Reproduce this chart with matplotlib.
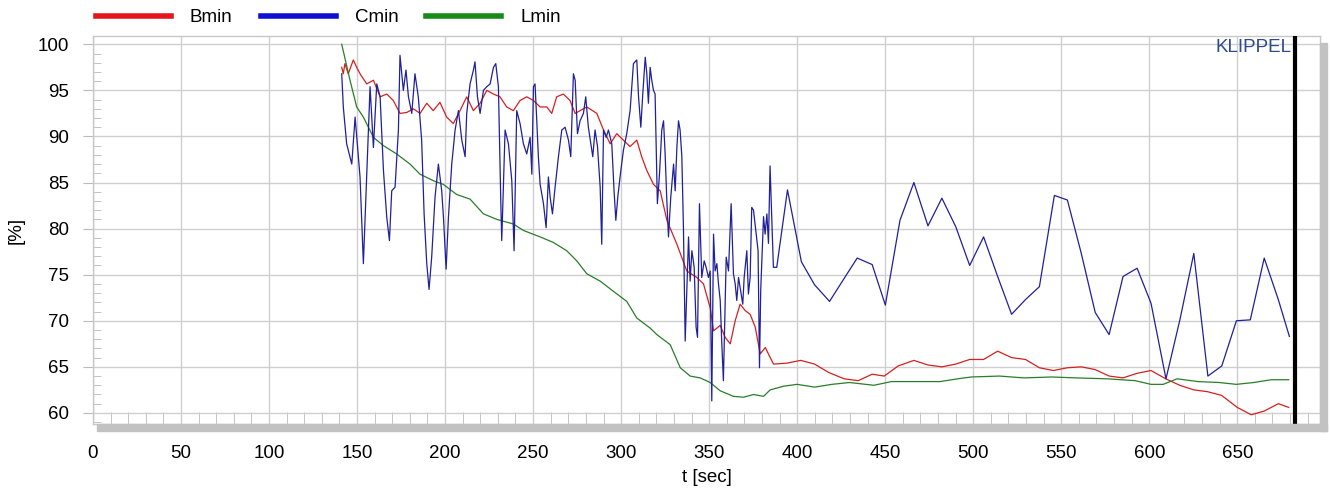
import numpy as np
import matplotlib.pyplot as plt
from matplotlib.patches import Rectangle
from matplotlib.ticker import MultipleLocator

plt.rcParams['font.family'] = ['Liberation Sans', 'DejaVu Sans']

# Cmin: dense part (about one reading per second) then sparse part
t_c = [141.3, 142.2, 144.1, 147.0, 148.9, 151.7, 153.6, 155.5, 157.4, 159.3,
       161.2, 163.1, 165.0, 166.9, 168.4, 169.7, 171.6, 173.5, 174.4, 176.3,
       177.8, 179.2, 181.1, 182.9, 184.8, 186.7, 188.1, 189.6, 190.9, 192.4,
       194.3, 196.2, 198.1, 199.1, 200.6, 201.9, 203.8, 205.7, 207.6, 209.5,
       211.4, 212.3, 214.2, 216.1, 217.0, 218.4, 219.9, 221.8, 223.7, 225.6,
       227.5, 228.8, 230.3, 231.6, 232.2, 234.1, 236.0, 237.9, 239.2, 240.7,
       242.6, 244.5, 246.4, 248.3, 249.3, 250.2, 251.1, 252.1, 253.0, 254.0,
       255.9, 257.4, 258.7, 259.7, 261.0, 262.5, 264.4, 266.3, 268.2, 270.1,
       271.4, 272.9, 273.9, 275.2, 276.7, 278.6, 279.9, 281.4, 282.8, 283.9,
       285.2, 286.6, 288.1, 289.0, 290.0, 291.5, 292.8, 294.7, 296.0, 297.0,
       298.1, 299.4, 301.3, 303.2, 305.1, 307.0, 308.9, 309.9, 311.2, 312.3,
       313.7, 314.6, 315.5, 316.5, 317.4, 318.4, 319.3, 319.9, 320.6, 321.8,
       323.1, 324.1, 325.0, 325.9, 326.9, 328.2, 329.8, 330.7, 331.7, 332.6,
       333.5, 334.5, 335.4, 336.4, 338.3, 339.2, 340.2, 341.5, 342.6, 343.4,
       344.5, 345.8, 347.2, 348.3, 349.6, 350.6, 351.5, 352.5, 353.4, 354.4,
       355.3, 356.3, 357.2, 358.1, 359.7, 361.0, 362.5, 363.8, 364.8, 365.7,
       366.7, 367.6, 369.1, 369.9, 371.4, 372.3, 373.3, 374.2, 375.2, 376.7,
       377.8, 378.6, 379.3, 380.9, 381.8, 382.8, 383.7, 384.6, 385.6, 386.5,
       388.4, 394.5, 402.4, 409.9, 418.4, 426.7, 434.1, 442.6, 450.1, 458.4,
       466.3, 474.3, 482.2, 490.1, 498.0, 505.9, 513.9, 521.8, 529.7, 537.6,
       546.1, 553.5, 561.4, 569.3, 577.2, 585.1, 593.1, 601.0, 609.5, 617.4,
       625.3, 633.3, 641.2, 649.5, 657.4, 665.3, 673.3, 679.6]
cmin = [96.8, 93.2, 89.2, 87.0, 92.1, 85.6, 76.2, 85.9, 95.4, 88.8,
        95.7, 94.3, 86.3, 81.2, 78.7, 84.1, 84.5, 90.7, 98.8, 95.0,
        97.2, 94.3, 92.5, 96.8, 94.3, 89.6, 81.6, 76.2, 73.4, 76.9,
        83.4, 87.0, 84.1, 81.2, 75.6, 81.2, 87.0, 90.7, 92.8, 89.6,
        87.8, 92.5, 95.7, 97.2, 98.1, 94.3, 92.5, 95.0, 95.4, 95.7,
        97.5, 97.9, 95.4, 83.4, 78.7, 90.7, 89.2, 85.2, 77.6, 92.8,
        91.4, 89.2, 88.1, 89.9, 85.9, 95.4, 95.7, 91.7, 87.8, 84.8,
        82.7, 80.1, 85.6, 83.4, 81.6, 84.5, 87.8, 90.7, 91.0, 89.6,
        87.8, 96.8, 96.1, 90.3, 91.7, 92.5, 94.3, 91.0, 89.2, 87.8,
        90.7, 88.9, 84.5, 78.3, 90.7, 89.9, 90.7, 89.2, 84.1, 80.9,
        83.4, 85.6, 88.5, 90.3, 92.8, 97.9, 98.3, 94.3, 91.0, 94.6,
        98.6, 96.8, 93.6, 97.5, 96.1, 95.0, 94.6, 88.9, 82.7, 85.9,
        90.7, 91.7, 88.1, 83.4, 79.1, 83.4, 87.0, 84.1, 88.9, 91.7,
        90.7, 87.8, 80.1, 67.8, 79.1, 74.3, 77.6, 75.8, 69.3, 68.2,
        82.7, 74.7, 76.5, 75.8, 74.7, 75.4, 61.3, 79.4, 75.4, 76.2,
        74.0, 72.2, 67.5, 63.5, 76.9, 75.4, 82.7, 75.1, 74.0, 72.2,
        74.7, 73.6, 71.8, 74.7, 77.6, 72.9, 74.7, 82.3, 82.0, 79.4,
        77.6, 64.9, 73.3, 81.3, 79.4, 81.6, 78.4, 86.8, 80.9, 75.8,
        75.8, 84.2, 76.4, 73.9, 72.1, 74.6, 76.8, 76.1, 71.7, 80.9,
        85.0, 80.3, 83.3, 80.2, 76.0, 79.1, 74.8, 70.7, 72.3, 73.7,
        83.6, 83.1, 77.3, 70.9, 68.5, 74.8, 75.7, 71.9, 63.7, 70.1,
        77.3, 64.0, 65.1, 70.0, 70.1, 76.8, 72.3, 68.3]

t_b = [141.3, 142.2, 143.1, 145.0, 147.9, 149.8, 151.7, 155.5, 159.3, 163.1,
       166.9, 170.6, 174.4, 178.2, 182.0, 185.8, 189.6, 193.3, 197.1, 200.9,
       204.7, 208.5, 212.3, 216.1, 219.9, 223.7, 227.5, 231.2, 235.0, 238.8,
       242.6, 246.4, 250.2, 254.0, 257.8, 260.6, 263.4, 267.2, 271.0, 273.9,
       276.7, 280.5, 286.2, 290.0, 293.8, 297.5, 301.3, 305.1, 308.9, 311.7,
       314.6, 318.4, 322.2, 326.0, 331.7, 337.3, 343.0, 346.8, 350.6, 352.5,
       356.3, 359.1, 362.0, 364.8, 367.6, 370.5, 373.3, 376.2, 379.0, 381.9,
       384.7, 386.6, 394.2, 402.0, 409.9, 417.8, 426.7, 434.7, 442.6, 449.5,
       457.4, 466.3, 474.3, 482.2, 490.1, 498.0, 505.9, 513.9, 521.8, 529.7,
       537.6, 545.5, 553.5, 561.4, 569.3, 577.2, 585.1, 593.1, 601.0, 609.4,
       617.3, 625.3, 633.2, 641.1, 650.0, 657.9, 665.3, 673.3, 679.2]
bmin = [97.5, 96.8, 97.9, 96.8, 98.3, 97.5, 96.8, 95.7, 96.1, 94.3,
        94.6, 93.9, 92.5, 92.6, 93.0, 92.5, 93.6, 92.8, 93.7, 92.1,
        91.4, 92.8, 94.3, 92.8, 93.6, 95.0, 94.6, 94.3, 93.2, 92.8,
        93.9, 94.3, 93.9, 93.2, 93.2, 92.5, 94.3, 94.6, 93.9, 92.5,
        92.8, 93.2, 92.5, 90.7, 89.2, 90.3, 89.6, 88.9, 89.6, 87.8,
        86.3, 84.8, 84.1, 80.9, 78.3, 75.4, 74.7, 74.0, 71.4, 68.9,
        69.5, 68.2, 67.5, 70.0, 71.8, 71.1, 70.7, 69.3, 66.4, 67.1,
        66.0, 65.3, 65.4, 65.7, 65.3, 64.4, 63.7, 63.5, 64.2, 64.0,
        65.1, 65.7, 65.2, 65.0, 65.3, 65.8, 65.8, 66.7, 66.0, 65.8,
        64.9, 64.6, 64.9, 65.0, 64.7, 64.0, 63.8, 64.3, 64.6, 63.7,
        63.0, 62.5, 62.3, 61.9, 60.6, 59.8, 60.2, 61.0, 60.6]

t_l = [141.3, 146.0, 149.8, 153.6, 159.3, 165.0, 172.5, 180.1, 185.8, 193.3,
       199.0, 206.6, 214.2, 221.8, 229.4, 238.8, 244.5, 254.0, 261.5, 269.1,
       274.8, 280.5, 288.1, 295.6, 303.2, 308.9, 316.5, 320.3, 327.9, 333.6,
       339.2, 344.9, 350.6, 356.3, 363.8, 369.5, 375.2, 380.9, 384.7, 392.3,
       400.0, 409.9, 419.8, 429.7, 443.6, 453.5, 466.3, 481.2, 491.1, 499.0,
       514.9, 528.7, 544.6, 558.4, 576.2, 592.0, 601.0, 607.9, 615.8, 627.7,
       639.6, 649.5, 659.4, 669.3, 679.2]
lmin = [100.0, 96.1, 93.2, 92.1, 89.9, 89.0, 88.1, 87.0, 85.9, 85.2,
        84.8, 83.7, 83.2, 81.6, 81.0, 80.5, 79.8, 79.1, 78.5, 77.6,
        76.5, 75.1, 74.3, 73.2, 72.1, 70.3, 69.2, 68.5, 67.4, 64.9,
        64.0, 63.8, 63.3, 62.4, 61.8, 61.7, 62.0, 61.8, 62.5, 62.9,
        63.1, 62.8, 63.1, 63.3, 63.0, 63.4, 63.4, 63.4, 63.7, 63.9,
        64.0, 63.8, 63.9, 63.8, 63.7, 63.5, 63.1, 63.1, 63.7, 63.4,
        63.3, 63.1, 63.3, 63.6, 63.6]

t_end = 683

fig = plt.figure(figsize=(13.3, 4.91), dpi=100)
ax = fig.add_axes([0.0699, 0.1365, 0.9226, 0.7902])

ax.plot(t_b, bmin, color='#d42020', lw=0.9, label='Bmin', zorder=3)
ax.plot(t_c, cmin, color='#20209a', lw=0.9, label='Cmin', zorder=4)
ax.plot(t_l, lmin, color='#2a7d2a', lw=0.9, label='Lmin', zorder=3)
ax.axvline(t_end, color='black', lw=3, zorder=5)

ax.set_xlim(0, 697)
ax.set_ylim(58.8, 100.9)
ax.xaxis.set_major_locator(MultipleLocator(50))
ax.xaxis.set_minor_locator(MultipleLocator(10))
ax.yaxis.set_major_locator(MultipleLocator(5))
ax.yaxis.set_minor_locator(MultipleLocator(1))
ax.grid(True, which='major', color='#cfcfcf', lw=1)

ax.tick_params(axis='x', which='major', length=0, pad=15, labelsize=13.5)
ax.tick_params(axis='x', which='minor', direction='in', length=9, color='#bbbbbb')
ax.tick_params(axis='y', which='major', length=7, color='#bbbbbb', pad=10, labelsize=13.5)
ax.tick_params(axis='y', which='minor', direction='in', length=6, color='#bbbbbb')

for s in ax.spines.values():
    s.set_color('#c8c8c8')
    s.set_linewidth(1)

# shadow bars under and right of the plot frame
ax.add_patch(Rectangle((0.003, -0.019), 1.0027, 0.019, transform=ax.transAxes,
                       color='#c2c2c2', clip_on=False, zorder=6))
ax.add_patch(Rectangle((1.0, -0.019), 0.0057, 1.0, transform=ax.transAxes,
                       color='#c2c2c2', clip_on=False, zorder=6))

ax.set_xlabel('t [sec]', fontsize=13.5)
ax.xaxis.set_label_coords(0.5, -0.115)
ax.set_ylabel('[%]', fontsize=13.5)
ax.yaxis.set_label_coords(-0.056, 0.5)

ax.text(681, 99.7, 'KLIPPEL', ha='right', va='center', color='#2e4a8c', fontsize=13.5, zorder=6)

leg = ax.legend(loc='lower left', bbox_to_anchor=(-0.002, 1.01), ncol=3, frameon=False,
                fontsize=13.5, handlelength=4, handletextpad=1.0, columnspacing=1.5,
                borderpad=0.1, borderaxespad=0.2)
for h, c in zip(leg.get_lines(), ['#e8141b', '#1010d0', '#178a17']):
    h.set_linewidth(4)
    h.set_color(c)

fig.savefig('out.png', dpi=100)
